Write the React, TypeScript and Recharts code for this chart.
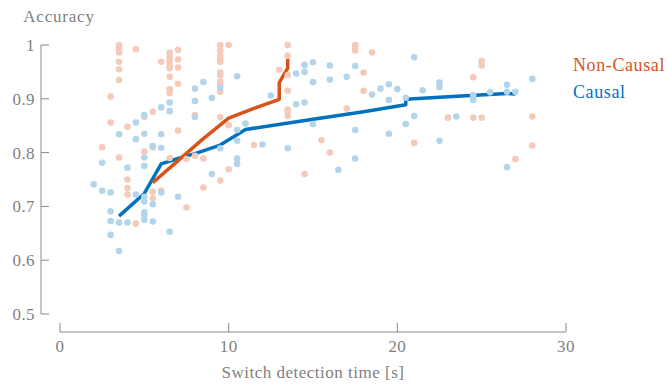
import React from 'react';
import { ComposedChart, Scatter, Line, XAxis, YAxis, ReferenceLine, Legend } from 'recharts';

// ---- data ----
const xTicks = [0, 10, 20, 30];
const yTicks = [0.5, 0.6, 0.7, 0.8, 0.9, 1];
const legendOrder = ['Non-Causal', 'Causal'];

const nonCausalTrials: [number, number][] = [
  [2.5, 0.81],
  [3, 0.904], [3, 0.856],
  [3.5, 1.0], [3.5, 0.996], [3.5, 0.991], [3.5, 0.986], [3.5, 0.969], [3.5, 0.955], [3.5, 0.935], [3.5, 0.791],
  [4, 0.848], [4, 0.75], [4, 0.734], [4, 0.722],
  [4.5, 0.992], [4.5, 0.668],
  [5, 0.866], [5, 0.802],
  [5.5, 0.876], [5.5, 0.81], [5.5, 0.727], [5.5, 0.715],
  [6, 0.969], [6, 0.729],
  [6.5, 0.986], [6.5, 0.98], [6.5, 0.973], [6.5, 0.969], [6.5, 0.961], [6.5, 0.957], [6.5, 0.941], [6.5, 0.918], [6.5, 0.911], [6.5, 0.79],
  [7, 0.991], [7, 0.973], [7, 0.958], [7, 0.928], [7, 0.841],
  [7.5, 0.788], [7.5, 0.698],
  [8, 0.87], [8, 0.794],
  [8.5, 0.789], [8.5, 0.735],
  [9.5, 1.0], [9.5, 0.989], [9.5, 0.98], [9.5, 0.973], [9.5, 0.969], [9.5, 0.949], [9.5, 0.944], [9.5, 0.932], [9.5, 0.926], [9.5, 0.913], [9.5, 0.866], [9.5, 0.748],
  [10, 1.0], [10, 0.851], [10, 0.769],
  [11.5, 0.814],
  [13, 0.954],
  [13.5, 1.0], [13.5, 0.98], [13.5, 0.944], [13.5, 0.915], [13.5, 0.88], [13.5, 0.876], [13.5, 0.868],
  [14.5, 0.76],
  [15.5, 0.823],
  [16, 0.8],
  [17, 0.882],
  [17.5, 1.0], [17.5, 0.996], [17.5, 0.99],
  [18, 0.949], [18, 0.915],
  [18.5, 0.986],
  [21, 0.818],
  [23, 0.865],
  [24.5, 0.94], [24.5, 0.865],
  [25, 0.97], [25, 0.962], [25, 0.865],
  [27, 0.788],
  [28, 0.867], [28, 0.813],
];

const causalTrials: [number, number][] = [
  [2, 0.741],
  [2.5, 0.781], [2.5, 0.729],
  [3, 0.726], [3, 0.691], [3, 0.673], [3, 0.647],
  [3.5, 0.834], [3.5, 0.67], [3.5, 0.617],
  [4, 0.772], [4, 0.67],
  [4.5, 0.856], [4.5, 0.825], [4.5, 0.722],
  [5, 0.87], [5, 0.835], [5, 0.791], [5, 0.775], [5, 0.718], [5, 0.709], [5, 0.689], [5, 0.684], [5, 0.675],
  [5.5, 0.812], [5.5, 0.704], [5.5, 0.672],
  [6, 0.884], [6, 0.834], [6, 0.809], [6, 0.726],
  [6.5, 0.893], [6.5, 0.877], [6.5, 0.653],
  [7, 0.718],
  [8, 0.919], [8, 0.896], [8, 0.866],
  [8.5, 0.931],
  [9, 0.902], [9, 0.76],
  [9.5, 0.921], [9.5, 0.808],
  [10.5, 0.942], [10.5, 0.842], [10.5, 0.822], [10.5, 0.789], [10.5, 0.779],
  [11, 0.854],
  [12, 0.815],
  [12.5, 0.906],
  [13.5, 0.808],
  [14, 0.947], [14, 0.89],
  [14.5, 0.963], [14.5, 0.95], [14.5, 0.893],
  [15, 0.968], [15, 0.931], [15, 0.853],
  [16, 0.962], [16, 0.936],
  [16.5, 0.768],
  [17, 0.941],
  [17.5, 0.961], [17.5, 0.842], [17.5, 0.789],
  [18.5, 0.908],
  [19, 0.919],
  [19.5, 0.927], [19.5, 0.898], [19.5, 0.835],
  [20, 0.918],
  [20.5, 0.902], [20.5, 0.853],
  [21, 0.977], [21, 0.868],
  [21.5, 0.916],
  [22.5, 0.93], [22.5, 0.922], [22.5, 0.822],
  [23.5, 0.867],
  [24.5, 0.907], [24.5, 0.898],
  [25.5, 0.912],
  [26.5, 0.926], [26.5, 0.913], [26.5, 0.773],
  [27, 0.913],
  [28, 0.937],
];

const nonCausalCurve: [number, number][] = [
  [5.5, 0.744], [7, 0.785], [8.5, 0.826], [10, 0.864], [11.5, 0.882], [13, 0.899],
  [13, 0.93], [13.5, 0.957], [13.5, 0.975],
];

const causalCurve: [number, number][] = [
  [3.5, 0.682], [5, 0.724], [6, 0.779], [7, 0.789], [8, 0.798], [9.5, 0.814], [11, 0.843],
  [15, 0.862], [18, 0.876], [20.5, 0.889], [20.5, 0.899], [23, 0.904], [26.5, 0.91], [27, 0.909],
];

// ---- styling ----
const X_MIN = -1.1265;
const Y_MIN = 0.46654;
const AXIS_COLOR = '#8a8a8a';
const TEXT_COLOR = '#7f7f7f';
const FONT = '"Liberation Serif", "DejaVu Serif", serif';
const ORANGE = '#D95319';
const BLUE = '#0072BD';
const ORANGE_LIGHT = '#F4CBBA';
const BLUE_LIGHT = '#B3D5EB';

const toPoints = (arr: [number, number][]) => arr.map(([x, y]) => ({ x, y }));

const XTick = (props: any) => {
  const { x, y, payload } = props;
  return (
    <g>
      <line x1={x} x2={x} y1={y - 9} y2={y} stroke={AXIS_COLOR} strokeWidth={1} />
      <text x={x} y={y + 20} textAnchor="middle" fill={TEXT_COLOR} fontSize={17} fontFamily={FONT} letterSpacing={0.4}>
        {payload.value}
      </text>
    </g>
  );
};

const YTick = (props: any) => {
  const { x, y, payload } = props;
  return (
    <g>
      <line x1={x} x2={x + 8} y1={y} y2={y} stroke={AXIS_COLOR} strokeWidth={1} />
      <text x={x - 6} y={y + 6} textAnchor="end" fill={TEXT_COLOR} fontSize={17} fontFamily={FONT} letterSpacing={0.4}>
        {payload.value}
      </text>
    </g>
  );
};

const dot = (fill: string) => (p: any) => <circle cx={p.cx} cy={p.cy} r={3.3} fill={fill} />;

const renderLegend = (props: any) => {
  const payload = props.payload || [];
  const items = legendOrder
    .map((name) => payload.find((p: any) => p.value === name))
    .filter(Boolean);
  return (
    <div>
      {items.map((it: any) => (
        <div
          key={it.value}
          style={{
            color: it.color,
            fontFamily: FONT,
            fontSize: 18,
            lineHeight: '27px',
            letterSpacing: '0.6px',
            whiteSpace: 'nowrap',
          }}
        >
          {it.value}
        </div>
      ))}
    </div>
  );
};

export default function App() {
  return (
    <div style={{ position: 'absolute', left: 0, top: 0, width: 668, height: 384, background: '#fff' }}>
      <ComposedChart width={668} height={384} margin={{ top: 45, right: 102, bottom: 0, left: 0 }}>
        <XAxis
          type="number"
          dataKey="x"
          domain={[X_MIN, 30]}
          ticks={xTicks}
          interval={0}
          axisLine={false}
          tickLine={false}
          tickSize={0}
          tickMargin={0}
          tick={<XTick />}
          height={52}
          label={{
            content: (p: any) => (
              <text
                x={p.viewBox.x + 272}
                y={p.viewBox.y + 46}
                textAnchor="middle"
                fill={TEXT_COLOR}
                fontSize={17}
                fontFamily={FONT}
                letterSpacing={0.5}
              >
                Switch detection time [s]
              </text>
            ),
          }}
        />
        <YAxis
          type="number"
          dataKey="y"
          domain={[Y_MIN, 1]}
          ticks={yTicks}
          interval={0}
          axisLine={false}
          tickLine={false}
          tickSize={0}
          tickMargin={0}
          tick={<YTick />}
          width={41}
          label={{
            content: (p: any) => (
              <text
                x={p.viewBox.x + p.viewBox.width + 18}
                y={p.viewBox.y - 23}
                textAnchor="middle"
                fill={TEXT_COLOR}
                fontSize={17}
                fontFamily={FONT}
                letterSpacing={0.8}
              >
                Accuracy
              </text>
            ),
          }}
        />
        <ReferenceLine
          segment={[{ x: 0, y: Y_MIN }, { x: 30, y: Y_MIN }]}
          stroke={AXIS_COLOR}
          strokeWidth={1}
          ifOverflow="visible"
        />
        <ReferenceLine
          segment={[{ x: X_MIN, y: 0.5 }, { x: X_MIN, y: 1 }]}
          stroke={AXIS_COLOR}
          strokeWidth={1}
          ifOverflow="visible"
        />
        <Scatter
          name="nc-trials"
          data={toPoints(nonCausalTrials)}
          fill={ORANGE_LIGHT}
          shape={dot(ORANGE_LIGHT)}
          legendType="none"
          isAnimationActive={false}
        />
        <Scatter
          name="c-trials"
          data={toPoints(causalTrials)}
          fill={BLUE_LIGHT}
          shape={dot(BLUE_LIGHT)}
          legendType="none"
          isAnimationActive={false}
        />
        <Line
          name="Causal"
          data={toPoints(causalCurve)}
          dataKey="y"
          stroke={BLUE}
          strokeWidth={3.5}
          strokeLinejoin="round"
          dot={false}
          activeDot={false}
          isAnimationActive={false}
        />
        <Line
          name="Non-Causal"
          data={toPoints(nonCausalCurve)}
          dataKey="y"
          stroke={ORANGE}
          strokeWidth={3.5}
          strokeLinejoin="round"
          dot={false}
          activeDot={false}
          isAnimationActive={false}
        />
        <Legend
          layout="horizontal"
          verticalAlign="middle"
          align="center"
          content={renderLegend}
          wrapperStyle={{ position: 'absolute', left: 573, top: 52, width: 'auto', height: 'auto' }}
        />
      </ComposedChart>
    </div>
  );
}
